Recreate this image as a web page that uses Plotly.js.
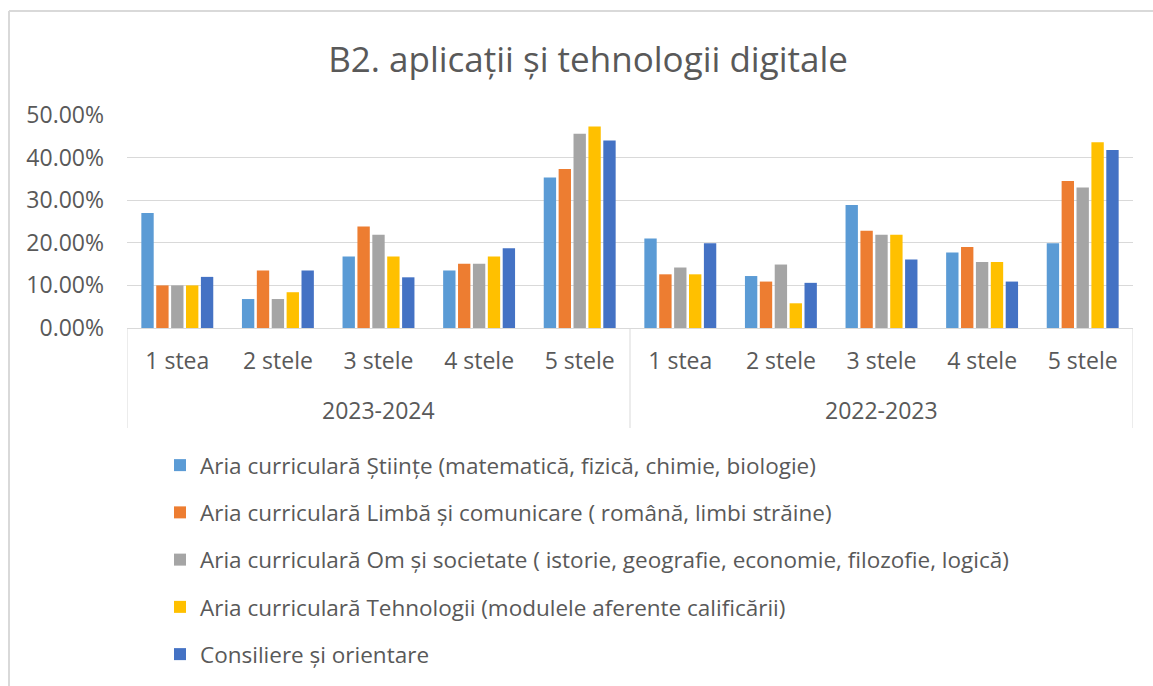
<!DOCTYPE html>
<html>
<head>
<meta charset="utf-8">
<script src="https://cdn.plot.ly/plotly-3.0.1.min.js"></script>
<style>html,body{margin:0;padding:0;background:#fff;}#chart{width:1153px;height:686px;}</style>
</head>
<body>
<div id="chart"></div>
<script>
const years = ['2023-2024', '2022-2023'];
const stars = ['1 stea', '2 stele', '3 stele', '4 stele', '5 stele'];
const seriesNames = [
  'Aria curriculară Științe (matematică, fizică, chimie, biologie)',
  'Aria curriculară Limbă și comunicare ( română, limbi străine)',
  'Aria curriculară Om și societate ( istorie, geografie, economie, filozofie, logică)',
  'Aria curriculară Tehnologii (modulele aferente calificării)',
  'Consiliere și orientare'
];
// values per series: first 5 = 2023-2024 (1..5 stele), next 5 = 2022-2023
const stiinte   = [0.270, 0.068, 0.168, 0.135, 0.353, 0.210, 0.122, 0.289, 0.177, 0.199];
const limba     = [0.100, 0.135, 0.238, 0.151, 0.373, 0.126, 0.109, 0.228, 0.190, 0.345];
const omSoc     = [0.100, 0.068, 0.219, 0.151, 0.456, 0.142, 0.149, 0.219, 0.155, 0.330];
const tehnologii= [0.100, 0.084, 0.168, 0.168, 0.473, 0.126, 0.058, 0.219, 0.155, 0.436];
const consiliere= [0.120, 0.135, 0.119, 0.187, 0.440, 0.199, 0.106, 0.161, 0.109, 0.418];
const colors = ['#5B9BD5', '#ED7D31', '#A5A5A5', '#FFC000', '#4472C4'];

// build the two-level category axis: positions 0..9, inner labels, outer group labels
const pos = [], innerText = [];
years.forEach((y, gi) => stars.forEach((s, si) => { pos.push(gi * stars.length + si); innerText.push(s); }));

const allSeries = [stiinte, limba, omSoc, tehnologii, consiliere];
const traces = allSeries.map((vals, i) => ({
  type: 'bar',
  name: seriesNames[i],
  x: pos,
  y: vals,
  legendgroup: 'g' + i,
  marker: {color: colors[i], line: {width: 0}},
  hoverinfo: 'y+name'
}));

const txt = '#595959';
const grid = '#d9d9d9';
const L = 127, R = 1133, T = 115, B = 328;
const W = R - L, H = B - T;
const px = v => (v - L) / W;
const py = v => (B - v) / H;

const n = stars.length;
const annotations = years.map((y, gi) => ({
  text: y, xref: 'x', yref: 'paper',
  x: gi * n + (n - 1) / 2, y: py(410), xanchor: 'center', yanchor: 'middle',
  showarrow: false, font: {size: 23, color: txt}
}));
const dividers = [];
for (let gi = 0; gi <= years.length; gi++) {
  dividers.push({type: 'line', xref: 'x', yref: 'paper', x0: gi * n - 0.5, x1: gi * n - 0.5,
    y0: 0, y1: py(428), line: {color: grid, width: 1}});
}

const layout = {
  width: 1153, height: 686,
  paper_bgcolor: '#ffffff', plot_bgcolor: '#ffffff',
  margin: {l: L, r: 1153 - R, t: T, b: 686 - B, autoexpand: false},
  font: {family: 'Open Sans, sans-serif', color: txt},
  title: {text: 'B2. aplicații și tehnologii digitale', font: {size: 35, color: txt}, x: 0.51, xanchor: 'center', y: 1 - 60/686, yanchor: 'middle'},
  barmode: 'group',
  bargap: 0.26,
  bargroupgap: 0.17,
  showlegend: true,
  legend: {
    orientation: 'v', x: px(160), xanchor: 'left', y: py(444), yanchor: 'top',
    font: {size: 22.5, color: txt}, tracegroupgap: 15, traceorder: 'grouped',
    bgcolor: 'rgba(0,0,0,0)'
  },
  xaxis: {
    range: [-0.5, pos.length - 0.5],
    tickmode: 'array', tickvals: pos, ticktext: innerText,
    showline: true, linecolor: grid, linewidth: 1,
    tickfont: {size: 23, color: txt}, ticklabelstandoff: 12,
    showgrid: false, zeroline: false, ticks: ''
  },
  yaxis: {
    range: [0, 0.5], dtick: 0.1, tickformat: '.2%',
    gridcolor: grid, gridwidth: 1, zeroline: false, showline: false,
    tickfont: {size: 23, color: txt}, ticks: '', ticklabelstandoff: 22
  },
  annotations: annotations,
  shapes: dividers.concat([
    {type: 'line', xref: 'paper', yref: 'paper', x0: px(9), x1: px(1153), y0: py(11), y1: py(11), line: {color: grid, width: 2}},
    {type: 'line', xref: 'paper', yref: 'paper', x0: px(9), x1: px(9), y0: py(11), y1: py(686), line: {color: grid, width: 2}}
  ])
};

Plotly.newPlot('chart', traces, layout, {displayModeBar: false, staticPlot: true});
</script>
</body>
</html>
